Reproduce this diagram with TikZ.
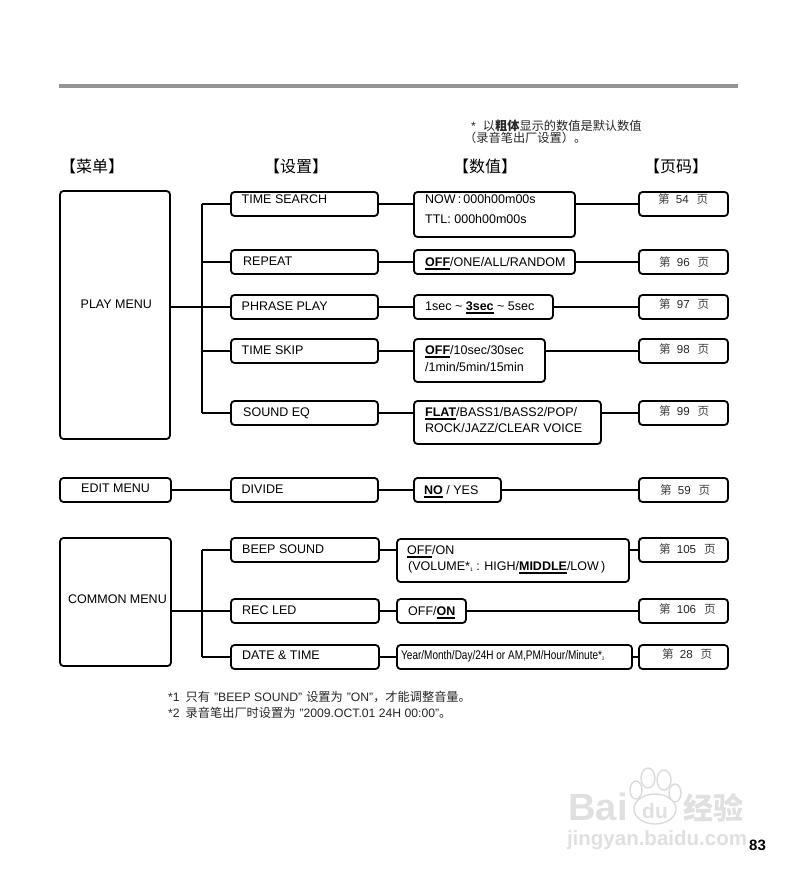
\documentclass[tikz,border=0pt]{standalone}
\usepackage{fontspec}
\usepackage{graphicx}
\setmainfont{Liberation Sans}
\newfontfamily\cjk{Noto Sans CJK SC}
\usepackage{tikz}

\newcommand{\undl}[1]{\leavevmode\setbox0\hbox{#1}\rlap{\rule[-3.6pt]{\wd0}{1.7pt}}\box0\relax}
\newcommand{\defval}[1]{\undl{\textbf{#1}}}
\newcommand{\pagetag}[1]{{\cjk\color{black!75}第}\hspace{6pt}#1\hspace{8pt}{\cjk\color{black!75}页}}
\newcommand{\smallmark}[1]{\raisebox{-1pt}{\fontsize{5}{5}\selectfont #1}}

\begin{document}
\begin{tikzpicture}[x=1pt,y=-1pt,
  box/.style={draw,line width=1.8pt,rounded corners=3.5pt,inner sep=0pt},
  wire/.style={line width=1.8pt},
  lab/.style={anchor=base west,inner sep=0pt,font=\fontsize{12.5}{14}\selectfont},
  tag/.style={anchor=base west,inner sep=0pt,font=\fontsize{11.6}{14}\selectfont,text=black!85},
  head/.style={inner sep=0pt,font=\cjk\fontsize{16}{18}\selectfont},
  note/.style={anchor=base west,inner sep=0pt,font=\fontsize{12.2}{14}\selectfont,text=black!85},
  wmark/.style={inner sep=0pt,text=black!12,font=\bfseries},
  toe/.style={draw=black!14,fill=white,line width=1.4pt}]
\useasboundingbox (0,0) rectangle (798,885);
\fill[black!42] (59,84) rectangle (738,88);

% note and column heads
\node[note] (notea) at (471,131) {*\hspace{7pt}{\cjk 以\textbf{粗体}显示的数值是默认数值}};
\node[note] (noteb) at (464,143) {{\cjk （录音笔出厂设置）。}};
\node[head] (hmenu) at (92,166) {【菜单】};
\node[head] (hset) at (296,166) {【设置】};
\node[head] (hval) at (485,166) {【数值】};
\node[head] (hpage) at (676,166) {【页码】};

% menu boxes
\node[box,minimum width=110,minimum height=248] (playm) at (115,315) {};
\node[box,minimum width=111,minimum height=24] (editm) at (115.5,490) {};
\node[box,minimum width=111,minimum height=128] (commonm) at (115.5,602) {};
\node[lab] (playt) at (80.5,308) {PLAY MENU};
\node[lab] (editt) at (81,492) {EDIT MENU};
\node[lab] (commont) at (68,603) {COMMON MENU};

% setting boxes
\node[box,minimum width=147,minimum height=24] (search) at (304.5,204) {};
\node[box,minimum width=147,minimum height=24] (repeatb) at (304.5,262) {};
\node[box,minimum width=147,minimum height=24] (phrase) at (304.5,307) {};
\node[box,minimum width=147,minimum height=24] (skip) at (304.5,351) {};
\node[box,minimum width=147,minimum height=24] (eq) at (304.5,413) {};
\node[box,minimum width=147,minimum height=24] (divide) at (304.5,490) {};
\node[box,minimum width=148,minimum height=24] (beep) at (305,550) {};
\node[box,minimum width=148,minimum height=24] (recled) at (305,611) {};
\node[box,minimum width=148,minimum height=24] (date) at (305,657) {};
\node[lab] (searcht) at (241.5,204) {TIME SEARCH};
\node[lab] (repeatt) at (243,265.5) {REPEAT};
\node[lab] (phraset) at (241.5,310.5) {PHRASE PLAY};
\node[lab] (skipt) at (241.5,354) {TIME SKIP};
\node[lab] (eqt) at (243,416) {SOUND EQ};
\node[lab] (dividet) at (241.5,493) {DIVIDE};
\node[lab] (beept) at (242,553) {BEEP SOUND};
\node[lab] (recledt) at (242,614) {REC LED};
\node[lab] (datet) at (242,659) {DATE \& TIME};

% value boxes
\node[box,minimum width=161,minimum height=45] (searchv) at (494.5,214.5) {};
\node[box,minimum width=161,minimum height=24] (repeatv) at (494.5,262) {};
\node[box,minimum width=139,minimum height=24] (phrasev) at (483.5,307) {};
\node[box,minimum width=131,minimum height=43] (skipv) at (479.5,360.5) {};
\node[box,minimum width=187,minimum height=43] (eqv) at (507.5,422.5) {};
\node[box,minimum width=87,minimum height=24] (dividev) at (457.5,490) {};
\node[box,minimum width=232,minimum height=43] (beepv) at (513,560.5) {};
\node[box,minimum width=69,minimum height=24] (recledv) at (431.5,611) {};
\node[box,minimum width=235,minimum height=24] (datev) at (514.5,657) {};
\node[lab] (searchva) at (425,204) {NOW\,:\,000h00m00s};
\node[lab] (searchvb) at (425,224) {TTL: 000h00m00s};
\node[lab] (repeatvt) at (425,266) {\defval{OFF}/ONE/ALL/RANDOM};
\node[lab] (phrasevt) at (425,310) {1sec \textasciitilde{} \defval{3sec} \textasciitilde{} 5sec};
\node[lab] (skipva) at (425,354) {\defval{OFF}/10sec/30sec};
\node[lab] (skipvb) at (425,371) {/1min/5min/15min};
\node[lab] (eqva) at (425,416) {\defval{FLAT}/BASS1/BASS2/POP/};
\node[lab] (eqvb) at (425,432) {ROCK/JAZZ/CLEAR VOICE};
\node[lab] (dividevt) at (424,494) {\defval{NO} / YES};
\node[lab] (beepva) at (407,554) {\undl{OFF}/ON};
\node[lab] (beepvb) at (408,570) {(VOLUME*\smallmark{1} : HIGH/\defval{MIDDLE}/LOW\,)};
\node[lab] (recledvt) at (408,615) {OFF/\defval{ON}};
\node[lab] (datevt) at (401,659) {\scalebox{0.8}[1]{Year/Month/Day/24H or AM,PM/Hour/Minute*\smallmark{2}}};

% page boxes
\node[box,minimum width=89,minimum height=24] (searchp) at (683.5,204) {};
\node[box,minimum width=89,minimum height=24] (repeatp) at (683.5,262) {};
\node[box,minimum width=89,minimum height=24] (phrasep) at (683.5,307) {};
\node[box,minimum width=89,minimum height=24] (skipp) at (683.5,351) {};
\node[box,minimum width=89,minimum height=24] (eqp) at (683.5,413) {};
\node[box,minimum width=89,minimum height=24] (dividep) at (683.5,490) {};
\node[box,minimum width=89,minimum height=24] (beepp) at (683.5,550) {};
\node[box,minimum width=89,minimum height=24] (recledp) at (683.5,611) {};
\node[box,minimum width=89,minimum height=24] (datep) at (683.5,657) {};
\node[tag] (searchpt) at (658,204) {\pagetag{54}};
\node[tag] (repeatpt) at (659,266) {\pagetag{96}};
\node[tag] (phrasept) at (659,308) {\pagetag{97}};
\node[tag] (skippt) at (659,353) {\pagetag{98}};
\node[tag] (eqpt) at (659,415) {\pagetag{99}};
\node[tag] (dividept) at (660,494) {\pagetag{59}};
\node[tag] (beeppt) at (659,553) {\pagetag{105}};
\node[tag] (recledpt) at (659,613) {\pagetag{106}};
\node[tag] (datept) at (662,658) {\pagetag{28}};

% connectors
\coordinate (playbus) at (202,307);
\coordinate (commonbus) at (202,611);
\draw[wire] (playm.east |- playbus) -- (phrase.west);
\draw[wire] (playbus |- search.west) -- (playbus |- eq.west);
\draw[wire] (playbus |- search.west) -- (search.west);
\draw[wire] (playbus |- repeatb.west) -- (repeatb.west);
\draw[wire] (playbus |- skip.west) -- (skip.west);
\draw[wire] (playbus |- eq.west) -- (eq.west);
\draw[wire] (editm.east |- divide.west) -- (divide.west);
\draw[wire] (commonm.east |- recled.west) -- (recled.west);
\draw[wire] (commonbus |- beep.west) -- (commonbus |- date.west);
\draw[wire] (commonbus |- beep.west) -- (beep.west);
\draw[wire] (commonbus |- date.west) -- (date.west);

\draw[wire] (search.east) -- (searchv.west |- search.east);
\draw[wire] (repeatb.east) -- (repeatv.west);
\draw[wire] (phrase.east) -- (phrasev.west);
\draw[wire] (skip.east) -- (skipv.west |- skip.east);
\draw[wire] (eq.east) -- (eqv.west |- eq.east);
\draw[wire] (divide.east) -- (dividev.west);
\draw[wire] (beep.east) -- (beepv.west |- beep.east);
\draw[wire] (recled.east) -- (recledv.west);
\draw[wire] (date.east) -- (datev.west);

\draw[wire] (searchv.east |- searchp.west) -- (searchp.west);
\draw[wire] (repeatv.east) -- (repeatp.west);
\draw[wire] (phrasev.east) -- (phrasep.west);
\draw[wire] (skipv.east |- skipp.west) -- (skipp.west);
\draw[wire] (eqv.east |- eqp.west) -- (eqp.west);
\draw[wire] (dividev.east) -- (dividep.west);
\draw[wire] (beepv.east |- beepp.west) -- (beepp.west);
\draw[wire] (recledv.east) -- (recledp.west);
\draw[wire] (datev.east) -- (datep.west);

% footnotes
\node[note] (foota) at (168,701) {*1\hspace{6pt}{\cjk 只有}\hspace{4pt}"BEEP SOUND"\hspace{4pt}{\cjk 设置为}\hspace{4pt}"ON"{\cjk ，才能调整音量。}};
\node[note] (footb) at (168,717) {*2\hspace{6pt}{\cjk 录音笔出厂时设置为}\hspace{4pt}"2009.OCT.01 24H 00:00"{\cjk 。}};

% watermark
\path[toe] (648,778) ellipse (7 and 10);
\path[toe] (664,780) ellipse (7 and 10);
\path[toe] (636,790) ellipse (6 and 9);
\path[toe] (675,793) ellipse (6 and 9);
\path[toe] (655,809) ellipse (21 and 15);
\node[wmark,font=\bfseries\fontsize{38}{40}\selectfont] (wbai) at (598,807) {Bai};
\node[wmark,font=\bfseries\fontsize{21}{22}\selectfont] (wdu) at (655,811) {du};
\node[wmark,font=\cjk\bfseries\fontsize{30}{32}\selectfont] (wjing) at (713,808) {经验};
\node[wmark,font=\bfseries\fontsize{20.5}{22}\selectfont] (wurl) at (657,840) {jingyan.baidu.com};

\node[anchor=base west,inner sep=0pt,font=\bfseries\fontsize{15}{16}\selectfont] (pageno) at (749,850) {83};
\end{tikzpicture}
\end{document}
